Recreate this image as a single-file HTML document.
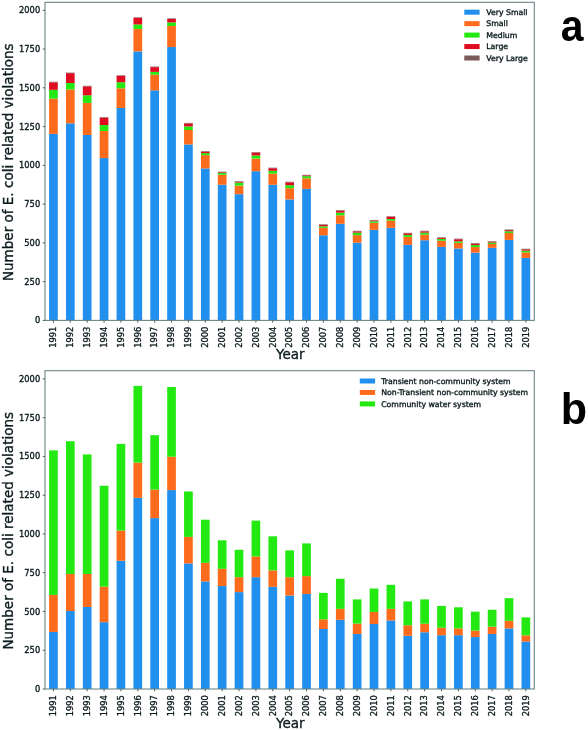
<!DOCTYPE html>
<html lang="en">
<head>
<meta charset="utf-8">
<title>E. coli related violations by system size and type, 1991-2019</title>
<style>
html,body{margin:0;padding:0;background:#fff;}
body{width:588px;height:730px;overflow:hidden;}
svg{display:block;filter:blur(0.45px);}
svg text{font-family:"DejaVu Sans","Liberation Sans",sans-serif;fill:#0d1c1f;stroke:#0d1c1f;stroke-width:0.34px;}
svg text.ltr{font-family:"Liberation Sans",Arial,Helvetica,sans-serif;font-weight:700;font-size:43.5px;fill:#000;stroke:none;}
</style>
</head>
<body>
<svg width="588" height="730" viewBox="0 0 588 730">
<rect width="588" height="730" fill="#ffffff"/>
<g id="panel-a">
<rect x="49.09" y="133.87" width="8.7" height="186.53" fill="#218fee"/>
<rect x="49.09" y="98.68" width="8.7" height="35.2" fill="#ff6b1c"/>
<rect x="49.09" y="89.84" width="8.7" height="8.84" fill="#24e812"/>
<rect x="49.09" y="82.32" width="8.7" height="7.52" fill="#df0c22"/>
<rect x="49.09" y="81.78" width="8.7" height="0.54" fill="#7d5a5a"/>
<rect x="65.96" y="123.33" width="8.7" height="197.07" fill="#218fee"/>
<rect x="65.96" y="89.53" width="8.7" height="33.8" fill="#ff6b1c"/>
<rect x="65.96" y="83.02" width="8.7" height="6.51" fill="#24e812"/>
<rect x="65.96" y="73.17" width="8.7" height="9.85" fill="#df0c22"/>
<rect x="65.96" y="72.63" width="8.7" height="0.54" fill="#7d5a5a"/>
<rect x="82.83" y="134.96" width="8.7" height="185.44" fill="#218fee"/>
<rect x="82.83" y="102.86" width="8.7" height="32.1" fill="#ff6b1c"/>
<rect x="82.83" y="95.27" width="8.7" height="7.6" fill="#24e812"/>
<rect x="82.83" y="86.35" width="8.7" height="8.92" fill="#df0c22"/>
<rect x="82.83" y="85.81" width="8.7" height="0.54" fill="#7d5a5a"/>
<rect x="99.7" y="158.06" width="8.7" height="162.34" fill="#218fee"/>
<rect x="99.7" y="130.93" width="8.7" height="27.13" fill="#ff6b1c"/>
<rect x="99.7" y="125.04" width="8.7" height="5.89" fill="#24e812"/>
<rect x="99.7" y="117.67" width="8.7" height="7.36" fill="#df0c22"/>
<rect x="99.7" y="117.13" width="8.7" height="0.54" fill="#7d5a5a"/>
<rect x="116.58" y="107.98" width="8.7" height="212.42" fill="#218fee"/>
<rect x="116.58" y="88.29" width="8.7" height="19.69" fill="#ff6b1c"/>
<rect x="116.58" y="82.24" width="8.7" height="6.05" fill="#24e812"/>
<rect x="116.58" y="75.81" width="8.7" height="6.43" fill="#df0c22"/>
<rect x="116.58" y="75.27" width="8.7" height="0.54" fill="#7d5a5a"/>
<rect x="133.45" y="51.39" width="8.7" height="269.01" fill="#218fee"/>
<rect x="133.45" y="28.91" width="8.7" height="22.48" fill="#ff6b1c"/>
<rect x="133.45" y="24.41" width="8.7" height="4.5" fill="#24e812"/>
<rect x="133.45" y="17.82" width="8.7" height="6.59" fill="#df0c22"/>
<rect x="133.45" y="17.28" width="8.7" height="0.54" fill="#7d5a5a"/>
<rect x="150.32" y="90.31" width="8.7" height="230.09" fill="#218fee"/>
<rect x="150.32" y="74.65" width="8.7" height="15.66" fill="#ff6b1c"/>
<rect x="150.32" y="71.85" width="8.7" height="2.79" fill="#24e812"/>
<rect x="150.32" y="67.13" width="8.7" height="4.73" fill="#df0c22"/>
<rect x="150.32" y="66.58" width="8.7" height="0.54" fill="#7d5a5a"/>
<rect x="167.19" y="47.05" width="8.7" height="273.35" fill="#218fee"/>
<rect x="167.19" y="25.96" width="8.7" height="21.09" fill="#ff6b1c"/>
<rect x="167.19" y="22.39" width="8.7" height="3.57" fill="#24e812"/>
<rect x="167.19" y="18.91" width="8.7" height="3.49" fill="#df0c22"/>
<rect x="167.19" y="18.36" width="8.7" height="0.54" fill="#7d5a5a"/>
<rect x="184.07" y="144.42" width="8.7" height="175.98" fill="#218fee"/>
<rect x="184.07" y="130" width="8.7" height="14.42" fill="#ff6b1c"/>
<rect x="184.07" y="126.43" width="8.7" height="3.57" fill="#24e812"/>
<rect x="184.07" y="123.41" width="8.7" height="3.02" fill="#df0c22"/>
<rect x="184.07" y="122.87" width="8.7" height="0.54" fill="#7d5a5a"/>
<rect x="200.94" y="168.45" width="8.7" height="151.95" fill="#218fee"/>
<rect x="200.94" y="155.12" width="8.7" height="13.33" fill="#ff6b1c"/>
<rect x="200.94" y="153.1" width="8.7" height="2.02" fill="#24e812"/>
<rect x="200.94" y="151.63" width="8.7" height="1.47" fill="#df0c22"/>
<rect x="200.94" y="151.09" width="8.7" height="0.54" fill="#7d5a5a"/>
<rect x="217.81" y="184.73" width="8.7" height="135.67" fill="#218fee"/>
<rect x="217.81" y="174.65" width="8.7" height="10.08" fill="#ff6b1c"/>
<rect x="217.81" y="172.95" width="8.7" height="1.71" fill="#24e812"/>
<rect x="217.81" y="172.25" width="8.7" height="0.7" fill="#df0c22"/>
<rect x="217.81" y="171.71" width="8.7" height="0.54" fill="#7d5a5a"/>
<rect x="234.68" y="194.19" width="8.7" height="126.21" fill="#218fee"/>
<rect x="234.68" y="185.66" width="8.7" height="8.53" fill="#ff6b1c"/>
<rect x="234.68" y="182.56" width="8.7" height="3.1" fill="#24e812"/>
<rect x="234.68" y="181.71" width="8.7" height="0.85" fill="#df0c22"/>
<rect x="234.68" y="181.17" width="8.7" height="0.54" fill="#7d5a5a"/>
<rect x="251.56" y="171.24" width="8.7" height="149.16" fill="#218fee"/>
<rect x="251.56" y="158.53" width="8.7" height="12.71" fill="#ff6b1c"/>
<rect x="251.56" y="155.43" width="8.7" height="3.1" fill="#24e812"/>
<rect x="251.56" y="152.56" width="8.7" height="2.87" fill="#df0c22"/>
<rect x="251.56" y="152.02" width="8.7" height="0.54" fill="#7d5a5a"/>
<rect x="268.43" y="184.73" width="8.7" height="135.67" fill="#218fee"/>
<rect x="268.43" y="173.57" width="8.7" height="11.16" fill="#ff6b1c"/>
<rect x="268.43" y="170.78" width="8.7" height="2.79" fill="#24e812"/>
<rect x="268.43" y="168.22" width="8.7" height="2.56" fill="#df0c22"/>
<rect x="268.43" y="167.68" width="8.7" height="0.54" fill="#7d5a5a"/>
<rect x="285.3" y="199.46" width="8.7" height="120.94" fill="#218fee"/>
<rect x="285.3" y="188.14" width="8.7" height="11.32" fill="#ff6b1c"/>
<rect x="285.3" y="185.2" width="8.7" height="2.95" fill="#24e812"/>
<rect x="285.3" y="182.33" width="8.7" height="2.87" fill="#df0c22"/>
<rect x="285.3" y="181.79" width="8.7" height="0.54" fill="#7d5a5a"/>
<rect x="302.17" y="188.92" width="8.7" height="131.48" fill="#218fee"/>
<rect x="302.17" y="178.37" width="8.7" height="10.54" fill="#ff6b1c"/>
<rect x="302.17" y="176.2" width="8.7" height="2.17" fill="#24e812"/>
<rect x="302.17" y="175.35" width="8.7" height="0.85" fill="#df0c22"/>
<rect x="302.17" y="174.81" width="8.7" height="0.54" fill="#7d5a5a"/>
<rect x="319.04" y="235.28" width="8.7" height="85.12" fill="#218fee"/>
<rect x="319.04" y="227.84" width="8.7" height="7.44" fill="#ff6b1c"/>
<rect x="319.04" y="226.28" width="8.7" height="1.55" fill="#24e812"/>
<rect x="319.04" y="224.81" width="8.7" height="1.47" fill="#df0c22"/>
<rect x="319.04" y="224.27" width="8.7" height="0.54" fill="#7d5a5a"/>
<rect x="335.92" y="223.8" width="8.7" height="96.6" fill="#218fee"/>
<rect x="335.92" y="215.28" width="8.7" height="8.53" fill="#ff6b1c"/>
<rect x="335.92" y="212.64" width="8.7" height="2.64" fill="#24e812"/>
<rect x="335.92" y="210.7" width="8.7" height="1.94" fill="#df0c22"/>
<rect x="335.92" y="210.16" width="8.7" height="0.54" fill="#7d5a5a"/>
<rect x="352.79" y="242.72" width="8.7" height="77.68" fill="#218fee"/>
<rect x="352.79" y="235.12" width="8.7" height="7.6" fill="#ff6b1c"/>
<rect x="352.79" y="232.64" width="8.7" height="2.48" fill="#24e812"/>
<rect x="352.79" y="231.32" width="8.7" height="1.32" fill="#df0c22"/>
<rect x="352.79" y="230.78" width="8.7" height="0.54" fill="#7d5a5a"/>
<rect x="369.66" y="229.85" width="8.7" height="90.55" fill="#218fee"/>
<rect x="369.66" y="222.87" width="8.7" height="6.98" fill="#ff6b1c"/>
<rect x="369.66" y="221.32" width="8.7" height="1.55" fill="#24e812"/>
<rect x="369.66" y="220.47" width="8.7" height="0.85" fill="#df0c22"/>
<rect x="369.66" y="219.93" width="8.7" height="0.54" fill="#7d5a5a"/>
<rect x="386.53" y="227.84" width="8.7" height="92.56" fill="#218fee"/>
<rect x="386.53" y="220.55" width="8.7" height="7.29" fill="#ff6b1c"/>
<rect x="386.53" y="219" width="8.7" height="1.55" fill="#24e812"/>
<rect x="386.53" y="216.75" width="8.7" height="2.25" fill="#df0c22"/>
<rect x="386.53" y="216.21" width="8.7" height="0.54" fill="#7d5a5a"/>
<rect x="403.41" y="244.89" width="8.7" height="75.51" fill="#218fee"/>
<rect x="403.41" y="236.83" width="8.7" height="8.06" fill="#ff6b1c"/>
<rect x="403.41" y="234.97" width="8.7" height="1.86" fill="#24e812"/>
<rect x="403.41" y="233.34" width="8.7" height="1.63" fill="#df0c22"/>
<rect x="403.41" y="232.8" width="8.7" height="0.54" fill="#7d5a5a"/>
<rect x="420.28" y="240.24" width="8.7" height="80.16" fill="#218fee"/>
<rect x="420.28" y="234.66" width="8.7" height="5.58" fill="#ff6b1c"/>
<rect x="420.28" y="232.64" width="8.7" height="2.02" fill="#24e812"/>
<rect x="420.28" y="231.32" width="8.7" height="1.32" fill="#df0c22"/>
<rect x="420.28" y="230.78" width="8.7" height="0.54" fill="#7d5a5a"/>
<rect x="437.15" y="246.91" width="8.7" height="73.49" fill="#218fee"/>
<rect x="437.15" y="240.7" width="8.7" height="6.2" fill="#ff6b1c"/>
<rect x="437.15" y="238.84" width="8.7" height="1.86" fill="#24e812"/>
<rect x="437.15" y="237.84" width="8.7" height="1.01" fill="#df0c22"/>
<rect x="437.15" y="237.29" width="8.7" height="0.54" fill="#7d5a5a"/>
<rect x="454.02" y="248.46" width="8.7" height="71.94" fill="#218fee"/>
<rect x="454.02" y="242.88" width="8.7" height="5.58" fill="#ff6b1c"/>
<rect x="454.02" y="241.32" width="8.7" height="1.55" fill="#24e812"/>
<rect x="454.02" y="239.23" width="8.7" height="2.09" fill="#df0c22"/>
<rect x="454.02" y="238.69" width="8.7" height="0.54" fill="#7d5a5a"/>
<rect x="470.9" y="252.64" width="8.7" height="67.76" fill="#218fee"/>
<rect x="470.9" y="247.06" width="8.7" height="5.58" fill="#ff6b1c"/>
<rect x="470.9" y="245.05" width="8.7" height="2.02" fill="#24e812"/>
<rect x="470.9" y="243.57" width="8.7" height="1.47" fill="#df0c22"/>
<rect x="470.9" y="243.03" width="8.7" height="0.54" fill="#7d5a5a"/>
<rect x="487.77" y="247.84" width="8.7" height="72.56" fill="#218fee"/>
<rect x="487.77" y="243.96" width="8.7" height="3.88" fill="#ff6b1c"/>
<rect x="487.77" y="242.56" width="8.7" height="1.4" fill="#24e812"/>
<rect x="487.77" y="241.71" width="8.7" height="0.85" fill="#df0c22"/>
<rect x="487.77" y="241.17" width="8.7" height="0.54" fill="#7d5a5a"/>
<rect x="504.64" y="239.93" width="8.7" height="80.47" fill="#218fee"/>
<rect x="504.64" y="232.95" width="8.7" height="6.98" fill="#ff6b1c"/>
<rect x="504.64" y="231.25" width="8.7" height="1.71" fill="#24e812"/>
<rect x="504.64" y="230.08" width="8.7" height="1.16" fill="#df0c22"/>
<rect x="504.64" y="229.54" width="8.7" height="0.54" fill="#7d5a5a"/>
<rect x="521.51" y="257.91" width="8.7" height="62.49" fill="#218fee"/>
<rect x="521.51" y="252.33" width="8.7" height="5.58" fill="#ff6b1c"/>
<rect x="521.51" y="250.63" width="8.7" height="1.71" fill="#24e812"/>
<rect x="521.51" y="249.31" width="8.7" height="1.32" fill="#df0c22"/>
<rect x="521.51" y="248.77" width="8.7" height="0.54" fill="#7d5a5a"/>
<rect x="45" y="2.3" width="489.3" height="318.1" fill="none" stroke="#6b8585" stroke-width="1.1"/>
<line x1="42.7" y1="320.4" x2="45" y2="320.4" stroke="#3a5054" stroke-width="0.9"/>
<text x="40.2" y="323.45" text-anchor="end" font-size="8.3">0</text>
<line x1="42.7" y1="281.64" x2="45" y2="281.64" stroke="#3a5054" stroke-width="0.9"/>
<text x="40.2" y="284.69" text-anchor="end" font-size="8.3">250</text>
<line x1="42.7" y1="242.88" x2="45" y2="242.88" stroke="#3a5054" stroke-width="0.9"/>
<text x="40.2" y="245.93" text-anchor="end" font-size="8.3">500</text>
<line x1="42.7" y1="204.11" x2="45" y2="204.11" stroke="#3a5054" stroke-width="0.9"/>
<text x="40.2" y="207.16" text-anchor="end" font-size="8.3">750</text>
<line x1="42.7" y1="165.35" x2="45" y2="165.35" stroke="#3a5054" stroke-width="0.9"/>
<text x="40.2" y="168.4" text-anchor="end" font-size="8.3">1000</text>
<line x1="42.7" y1="126.59" x2="45" y2="126.59" stroke="#3a5054" stroke-width="0.9"/>
<text x="40.2" y="129.64" text-anchor="end" font-size="8.3">1250</text>
<line x1="42.7" y1="87.82" x2="45" y2="87.82" stroke="#3a5054" stroke-width="0.9"/>
<text x="40.2" y="90.87" text-anchor="end" font-size="8.3">1500</text>
<line x1="42.7" y1="49.06" x2="45" y2="49.06" stroke="#3a5054" stroke-width="0.9"/>
<text x="40.2" y="52.11" text-anchor="end" font-size="8.3">1750</text>
<line x1="42.7" y1="10.3" x2="45" y2="10.3" stroke="#3a5054" stroke-width="0.9"/>
<text x="40.2" y="13.35" text-anchor="end" font-size="8.3">2000</text>
<line x1="53.44" y1="320.4" x2="53.44" y2="322.7" stroke="#3a5054" stroke-width="0.9"/>
<text transform="translate(56.24,326.6) rotate(-90)" text-anchor="end" font-size="8.3">1991</text>
<line x1="70.31" y1="320.4" x2="70.31" y2="322.7" stroke="#3a5054" stroke-width="0.9"/>
<text transform="translate(73.11,326.6) rotate(-90)" text-anchor="end" font-size="8.3">1992</text>
<line x1="87.18" y1="320.4" x2="87.18" y2="322.7" stroke="#3a5054" stroke-width="0.9"/>
<text transform="translate(89.98,326.6) rotate(-90)" text-anchor="end" font-size="8.3">1993</text>
<line x1="104.05" y1="320.4" x2="104.05" y2="322.7" stroke="#3a5054" stroke-width="0.9"/>
<text transform="translate(106.85,326.6) rotate(-90)" text-anchor="end" font-size="8.3">1994</text>
<line x1="120.93" y1="320.4" x2="120.93" y2="322.7" stroke="#3a5054" stroke-width="0.9"/>
<text transform="translate(123.73,326.6) rotate(-90)" text-anchor="end" font-size="8.3">1995</text>
<line x1="137.8" y1="320.4" x2="137.8" y2="322.7" stroke="#3a5054" stroke-width="0.9"/>
<text transform="translate(140.6,326.6) rotate(-90)" text-anchor="end" font-size="8.3">1996</text>
<line x1="154.67" y1="320.4" x2="154.67" y2="322.7" stroke="#3a5054" stroke-width="0.9"/>
<text transform="translate(157.47,326.6) rotate(-90)" text-anchor="end" font-size="8.3">1997</text>
<line x1="171.54" y1="320.4" x2="171.54" y2="322.7" stroke="#3a5054" stroke-width="0.9"/>
<text transform="translate(174.34,326.6) rotate(-90)" text-anchor="end" font-size="8.3">1998</text>
<line x1="188.42" y1="320.4" x2="188.42" y2="322.7" stroke="#3a5054" stroke-width="0.9"/>
<text transform="translate(191.22,326.6) rotate(-90)" text-anchor="end" font-size="8.3">1999</text>
<line x1="205.29" y1="320.4" x2="205.29" y2="322.7" stroke="#3a5054" stroke-width="0.9"/>
<text transform="translate(208.09,326.6) rotate(-90)" text-anchor="end" font-size="8.3">2000</text>
<line x1="222.16" y1="320.4" x2="222.16" y2="322.7" stroke="#3a5054" stroke-width="0.9"/>
<text transform="translate(224.96,326.6) rotate(-90)" text-anchor="end" font-size="8.3">2001</text>
<line x1="239.03" y1="320.4" x2="239.03" y2="322.7" stroke="#3a5054" stroke-width="0.9"/>
<text transform="translate(241.83,326.6) rotate(-90)" text-anchor="end" font-size="8.3">2002</text>
<line x1="255.91" y1="320.4" x2="255.91" y2="322.7" stroke="#3a5054" stroke-width="0.9"/>
<text transform="translate(258.71,326.6) rotate(-90)" text-anchor="end" font-size="8.3">2003</text>
<line x1="272.78" y1="320.4" x2="272.78" y2="322.7" stroke="#3a5054" stroke-width="0.9"/>
<text transform="translate(275.58,326.6) rotate(-90)" text-anchor="end" font-size="8.3">2004</text>
<line x1="289.65" y1="320.4" x2="289.65" y2="322.7" stroke="#3a5054" stroke-width="0.9"/>
<text transform="translate(292.45,326.6) rotate(-90)" text-anchor="end" font-size="8.3">2005</text>
<line x1="306.52" y1="320.4" x2="306.52" y2="322.7" stroke="#3a5054" stroke-width="0.9"/>
<text transform="translate(309.32,326.6) rotate(-90)" text-anchor="end" font-size="8.3">2006</text>
<line x1="323.39" y1="320.4" x2="323.39" y2="322.7" stroke="#3a5054" stroke-width="0.9"/>
<text transform="translate(326.19,326.6) rotate(-90)" text-anchor="end" font-size="8.3">2007</text>
<line x1="340.27" y1="320.4" x2="340.27" y2="322.7" stroke="#3a5054" stroke-width="0.9"/>
<text transform="translate(343.07,326.6) rotate(-90)" text-anchor="end" font-size="8.3">2008</text>
<line x1="357.14" y1="320.4" x2="357.14" y2="322.7" stroke="#3a5054" stroke-width="0.9"/>
<text transform="translate(359.94,326.6) rotate(-90)" text-anchor="end" font-size="8.3">2009</text>
<line x1="374.01" y1="320.4" x2="374.01" y2="322.7" stroke="#3a5054" stroke-width="0.9"/>
<text transform="translate(376.81,326.6) rotate(-90)" text-anchor="end" font-size="8.3">2010</text>
<line x1="390.88" y1="320.4" x2="390.88" y2="322.7" stroke="#3a5054" stroke-width="0.9"/>
<text transform="translate(393.68,326.6) rotate(-90)" text-anchor="end" font-size="8.3">2011</text>
<line x1="407.76" y1="320.4" x2="407.76" y2="322.7" stroke="#3a5054" stroke-width="0.9"/>
<text transform="translate(410.56,326.6) rotate(-90)" text-anchor="end" font-size="8.3">2012</text>
<line x1="424.63" y1="320.4" x2="424.63" y2="322.7" stroke="#3a5054" stroke-width="0.9"/>
<text transform="translate(427.43,326.6) rotate(-90)" text-anchor="end" font-size="8.3">2013</text>
<line x1="441.5" y1="320.4" x2="441.5" y2="322.7" stroke="#3a5054" stroke-width="0.9"/>
<text transform="translate(444.3,326.6) rotate(-90)" text-anchor="end" font-size="8.3">2014</text>
<line x1="458.37" y1="320.4" x2="458.37" y2="322.7" stroke="#3a5054" stroke-width="0.9"/>
<text transform="translate(461.17,326.6) rotate(-90)" text-anchor="end" font-size="8.3">2015</text>
<line x1="475.25" y1="320.4" x2="475.25" y2="322.7" stroke="#3a5054" stroke-width="0.9"/>
<text transform="translate(478.05,326.6) rotate(-90)" text-anchor="end" font-size="8.3">2016</text>
<line x1="492.12" y1="320.4" x2="492.12" y2="322.7" stroke="#3a5054" stroke-width="0.9"/>
<text transform="translate(494.92,326.6) rotate(-90)" text-anchor="end" font-size="8.3">2017</text>
<line x1="508.99" y1="320.4" x2="508.99" y2="322.7" stroke="#3a5054" stroke-width="0.9"/>
<text transform="translate(511.79,326.6) rotate(-90)" text-anchor="end" font-size="8.3">2018</text>
<line x1="525.86" y1="320.4" x2="525.86" y2="322.7" stroke="#3a5054" stroke-width="0.9"/>
<text transform="translate(528.66,326.6) rotate(-90)" text-anchor="end" font-size="8.3">2019</text>
<text x="290.25" y="359.4" text-anchor="middle" font-size="13.53">Year</text>
<text transform="translate(12.9,162.25) rotate(-90)" text-anchor="middle" font-size="13.53">Number of E. coli related violations</text>
<rect x="464.3" y="9.7" width="15.3" height="5" fill="#218fee"/>
<text x="486.3" y="14.9" font-size="7.75">Very Small</text>
<rect x="464.3" y="21.15" width="15.3" height="5" fill="#ff6b1c"/>
<text x="486.3" y="26.35" font-size="7.75">Small</text>
<rect x="464.3" y="32.6" width="15.3" height="5" fill="#24e812"/>
<text x="486.3" y="37.8" font-size="7.75">Medium</text>
<rect x="464.3" y="44.05" width="15.3" height="5" fill="#df0c22"/>
<text x="486.3" y="49.25" font-size="7.75">Large</text>
<rect x="464.3" y="55.5" width="15.3" height="5" fill="#7d5a5a"/>
<text x="486.3" y="60.7" font-size="7.75">Very Large</text>
<text class="ltr" transform="translate(560.8,40.5) scale(0.94,1)">a</text>
</g>
<g id="panel-b">
<rect x="49.09" y="631.94" width="8.7" height="57.06" fill="#218fee"/>
<rect x="49.09" y="594.88" width="8.7" height="37.06" fill="#ff6b1c"/>
<rect x="49.09" y="450.38" width="8.7" height="144.51" fill="#24e812"/>
<rect x="65.96" y="611.01" width="8.7" height="77.99" fill="#218fee"/>
<rect x="65.96" y="573.95" width="8.7" height="37.06" fill="#ff6b1c"/>
<rect x="65.96" y="441.23" width="8.7" height="132.72" fill="#24e812"/>
<rect x="82.83" y="606.98" width="8.7" height="82.02" fill="#218fee"/>
<rect x="82.83" y="573.95" width="8.7" height="33.03" fill="#ff6b1c"/>
<rect x="82.83" y="454.41" width="8.7" height="119.54" fill="#24e812"/>
<rect x="99.7" y="622.17" width="8.7" height="66.83" fill="#218fee"/>
<rect x="99.7" y="586.67" width="8.7" height="35.51" fill="#ff6b1c"/>
<rect x="99.7" y="485.73" width="8.7" height="100.94" fill="#24e812"/>
<rect x="116.58" y="560.77" width="8.7" height="128.23" fill="#218fee"/>
<rect x="116.58" y="530.54" width="8.7" height="30.23" fill="#ff6b1c"/>
<rect x="116.58" y="443.87" width="8.7" height="86.67" fill="#24e812"/>
<rect x="133.45" y="497.82" width="8.7" height="191.18" fill="#218fee"/>
<rect x="133.45" y="462.63" width="8.7" height="35.2" fill="#ff6b1c"/>
<rect x="133.45" y="385.88" width="8.7" height="76.75" fill="#24e812"/>
<rect x="150.32" y="518.13" width="8.7" height="170.87" fill="#218fee"/>
<rect x="150.32" y="489.61" width="8.7" height="28.53" fill="#ff6b1c"/>
<rect x="150.32" y="435.18" width="8.7" height="54.42" fill="#24e812"/>
<rect x="167.19" y="490.07" width="8.7" height="198.93" fill="#218fee"/>
<rect x="167.19" y="456.74" width="8.7" height="33.34" fill="#ff6b1c"/>
<rect x="167.19" y="386.96" width="8.7" height="69.77" fill="#24e812"/>
<rect x="184.07" y="563.41" width="8.7" height="125.59" fill="#218fee"/>
<rect x="184.07" y="536.9" width="8.7" height="26.51" fill="#ff6b1c"/>
<rect x="184.07" y="491.47" width="8.7" height="45.43" fill="#24e812"/>
<rect x="200.94" y="581.4" width="8.7" height="107.6" fill="#218fee"/>
<rect x="200.94" y="562.79" width="8.7" height="18.61" fill="#ff6b1c"/>
<rect x="200.94" y="519.69" width="8.7" height="43.1" fill="#24e812"/>
<rect x="217.81" y="586.05" width="8.7" height="102.95" fill="#218fee"/>
<rect x="217.81" y="568.84" width="8.7" height="17.21" fill="#ff6b1c"/>
<rect x="217.81" y="540.31" width="8.7" height="28.53" fill="#24e812"/>
<rect x="234.68" y="592.09" width="8.7" height="96.91" fill="#218fee"/>
<rect x="234.68" y="577.21" width="8.7" height="14.88" fill="#ff6b1c"/>
<rect x="234.68" y="549.77" width="8.7" height="27.44" fill="#24e812"/>
<rect x="251.56" y="577.21" width="8.7" height="111.79" fill="#218fee"/>
<rect x="251.56" y="556.43" width="8.7" height="20.78" fill="#ff6b1c"/>
<rect x="251.56" y="520.62" width="8.7" height="35.82" fill="#24e812"/>
<rect x="268.43" y="586.82" width="8.7" height="102.18" fill="#218fee"/>
<rect x="268.43" y="570.39" width="8.7" height="16.44" fill="#ff6b1c"/>
<rect x="268.43" y="536.28" width="8.7" height="34.11" fill="#24e812"/>
<rect x="285.3" y="595.5" width="8.7" height="93.5" fill="#218fee"/>
<rect x="285.3" y="577.21" width="8.7" height="18.3" fill="#ff6b1c"/>
<rect x="285.3" y="550.39" width="8.7" height="26.82" fill="#24e812"/>
<rect x="302.17" y="593.95" width="8.7" height="95.05" fill="#218fee"/>
<rect x="302.17" y="576.12" width="8.7" height="17.83" fill="#ff6b1c"/>
<rect x="302.17" y="543.41" width="8.7" height="32.72" fill="#24e812"/>
<rect x="319.04" y="629" width="8.7" height="60" fill="#218fee"/>
<rect x="319.04" y="619.38" width="8.7" height="9.61" fill="#ff6b1c"/>
<rect x="319.04" y="592.87" width="8.7" height="26.51" fill="#24e812"/>
<rect x="335.92" y="619.85" width="8.7" height="69.15" fill="#218fee"/>
<rect x="335.92" y="608.84" width="8.7" height="11.01" fill="#ff6b1c"/>
<rect x="335.92" y="578.76" width="8.7" height="30.08" fill="#24e812"/>
<rect x="352.79" y="633.96" width="8.7" height="55.04" fill="#218fee"/>
<rect x="352.79" y="623.57" width="8.7" height="10.39" fill="#ff6b1c"/>
<rect x="352.79" y="599.38" width="8.7" height="24.19" fill="#24e812"/>
<rect x="369.66" y="624.03" width="8.7" height="64.97" fill="#218fee"/>
<rect x="369.66" y="611.94" width="8.7" height="12.09" fill="#ff6b1c"/>
<rect x="369.66" y="588.53" width="8.7" height="23.41" fill="#24e812"/>
<rect x="386.53" y="620.47" width="8.7" height="68.53" fill="#218fee"/>
<rect x="386.53" y="608.84" width="8.7" height="11.63" fill="#ff6b1c"/>
<rect x="386.53" y="584.81" width="8.7" height="24.03" fill="#24e812"/>
<rect x="403.41" y="635.82" width="8.7" height="53.18" fill="#218fee"/>
<rect x="403.41" y="625.27" width="8.7" height="10.54" fill="#ff6b1c"/>
<rect x="403.41" y="601.4" width="8.7" height="23.88" fill="#24e812"/>
<rect x="420.28" y="632.25" width="8.7" height="56.75" fill="#218fee"/>
<rect x="420.28" y="623.72" width="8.7" height="8.53" fill="#ff6b1c"/>
<rect x="420.28" y="599.38" width="8.7" height="24.34" fill="#24e812"/>
<rect x="437.15" y="635.2" width="8.7" height="53.8" fill="#218fee"/>
<rect x="437.15" y="627.76" width="8.7" height="7.44" fill="#ff6b1c"/>
<rect x="437.15" y="605.89" width="8.7" height="21.86" fill="#24e812"/>
<rect x="454.02" y="635.2" width="8.7" height="53.8" fill="#218fee"/>
<rect x="454.02" y="628.38" width="8.7" height="6.82" fill="#ff6b1c"/>
<rect x="454.02" y="607.29" width="8.7" height="21.09" fill="#24e812"/>
<rect x="470.9" y="637.06" width="8.7" height="51.94" fill="#218fee"/>
<rect x="470.9" y="630.55" width="8.7" height="6.51" fill="#ff6b1c"/>
<rect x="470.9" y="611.63" width="8.7" height="18.92" fill="#24e812"/>
<rect x="487.77" y="633.96" width="8.7" height="55.04" fill="#218fee"/>
<rect x="487.77" y="626.67" width="8.7" height="7.29" fill="#ff6b1c"/>
<rect x="487.77" y="609.77" width="8.7" height="16.9" fill="#24e812"/>
<rect x="504.64" y="628.38" width="8.7" height="60.62" fill="#218fee"/>
<rect x="504.64" y="620.78" width="8.7" height="7.6" fill="#ff6b1c"/>
<rect x="504.64" y="598.14" width="8.7" height="22.64" fill="#24e812"/>
<rect x="521.51" y="641.55" width="8.7" height="47.45" fill="#218fee"/>
<rect x="521.51" y="635.35" width="8.7" height="6.2" fill="#ff6b1c"/>
<rect x="521.51" y="617.37" width="8.7" height="17.99" fill="#24e812"/>
<rect x="45" y="370.7" width="489.3" height="318.3" fill="none" stroke="#6b8585" stroke-width="1.1"/>
<line x1="42.7" y1="689" x2="45" y2="689" stroke="#3a5054" stroke-width="0.9"/>
<text x="40.2" y="692.05" text-anchor="end" font-size="8.3">0</text>
<line x1="42.7" y1="650.24" x2="45" y2="650.24" stroke="#3a5054" stroke-width="0.9"/>
<text x="40.2" y="653.29" text-anchor="end" font-size="8.3">250</text>
<line x1="42.7" y1="611.48" x2="45" y2="611.48" stroke="#3a5054" stroke-width="0.9"/>
<text x="40.2" y="614.52" text-anchor="end" font-size="8.3">500</text>
<line x1="42.7" y1="572.71" x2="45" y2="572.71" stroke="#3a5054" stroke-width="0.9"/>
<text x="40.2" y="575.76" text-anchor="end" font-size="8.3">750</text>
<line x1="42.7" y1="533.95" x2="45" y2="533.95" stroke="#3a5054" stroke-width="0.9"/>
<text x="40.2" y="537" text-anchor="end" font-size="8.3">1000</text>
<line x1="42.7" y1="495.19" x2="45" y2="495.19" stroke="#3a5054" stroke-width="0.9"/>
<text x="40.2" y="498.24" text-anchor="end" font-size="8.3">1250</text>
<line x1="42.7" y1="456.43" x2="45" y2="456.43" stroke="#3a5054" stroke-width="0.9"/>
<text x="40.2" y="459.48" text-anchor="end" font-size="8.3">1500</text>
<line x1="42.7" y1="417.66" x2="45" y2="417.66" stroke="#3a5054" stroke-width="0.9"/>
<text x="40.2" y="420.71" text-anchor="end" font-size="8.3">1750</text>
<line x1="42.7" y1="378.9" x2="45" y2="378.9" stroke="#3a5054" stroke-width="0.9"/>
<text x="40.2" y="381.95" text-anchor="end" font-size="8.3">2000</text>
<line x1="53.44" y1="689" x2="53.44" y2="691.3" stroke="#3a5054" stroke-width="0.9"/>
<text transform="translate(56.24,695.2) rotate(-90)" text-anchor="end" font-size="8.3">1991</text>
<line x1="70.31" y1="689" x2="70.31" y2="691.3" stroke="#3a5054" stroke-width="0.9"/>
<text transform="translate(73.11,695.2) rotate(-90)" text-anchor="end" font-size="8.3">1992</text>
<line x1="87.18" y1="689" x2="87.18" y2="691.3" stroke="#3a5054" stroke-width="0.9"/>
<text transform="translate(89.98,695.2) rotate(-90)" text-anchor="end" font-size="8.3">1993</text>
<line x1="104.05" y1="689" x2="104.05" y2="691.3" stroke="#3a5054" stroke-width="0.9"/>
<text transform="translate(106.85,695.2) rotate(-90)" text-anchor="end" font-size="8.3">1994</text>
<line x1="120.93" y1="689" x2="120.93" y2="691.3" stroke="#3a5054" stroke-width="0.9"/>
<text transform="translate(123.73,695.2) rotate(-90)" text-anchor="end" font-size="8.3">1995</text>
<line x1="137.8" y1="689" x2="137.8" y2="691.3" stroke="#3a5054" stroke-width="0.9"/>
<text transform="translate(140.6,695.2) rotate(-90)" text-anchor="end" font-size="8.3">1996</text>
<line x1="154.67" y1="689" x2="154.67" y2="691.3" stroke="#3a5054" stroke-width="0.9"/>
<text transform="translate(157.47,695.2) rotate(-90)" text-anchor="end" font-size="8.3">1997</text>
<line x1="171.54" y1="689" x2="171.54" y2="691.3" stroke="#3a5054" stroke-width="0.9"/>
<text transform="translate(174.34,695.2) rotate(-90)" text-anchor="end" font-size="8.3">1998</text>
<line x1="188.42" y1="689" x2="188.42" y2="691.3" stroke="#3a5054" stroke-width="0.9"/>
<text transform="translate(191.22,695.2) rotate(-90)" text-anchor="end" font-size="8.3">1999</text>
<line x1="205.29" y1="689" x2="205.29" y2="691.3" stroke="#3a5054" stroke-width="0.9"/>
<text transform="translate(208.09,695.2) rotate(-90)" text-anchor="end" font-size="8.3">2000</text>
<line x1="222.16" y1="689" x2="222.16" y2="691.3" stroke="#3a5054" stroke-width="0.9"/>
<text transform="translate(224.96,695.2) rotate(-90)" text-anchor="end" font-size="8.3">2001</text>
<line x1="239.03" y1="689" x2="239.03" y2="691.3" stroke="#3a5054" stroke-width="0.9"/>
<text transform="translate(241.83,695.2) rotate(-90)" text-anchor="end" font-size="8.3">2002</text>
<line x1="255.91" y1="689" x2="255.91" y2="691.3" stroke="#3a5054" stroke-width="0.9"/>
<text transform="translate(258.71,695.2) rotate(-90)" text-anchor="end" font-size="8.3">2003</text>
<line x1="272.78" y1="689" x2="272.78" y2="691.3" stroke="#3a5054" stroke-width="0.9"/>
<text transform="translate(275.58,695.2) rotate(-90)" text-anchor="end" font-size="8.3">2004</text>
<line x1="289.65" y1="689" x2="289.65" y2="691.3" stroke="#3a5054" stroke-width="0.9"/>
<text transform="translate(292.45,695.2) rotate(-90)" text-anchor="end" font-size="8.3">2005</text>
<line x1="306.52" y1="689" x2="306.52" y2="691.3" stroke="#3a5054" stroke-width="0.9"/>
<text transform="translate(309.32,695.2) rotate(-90)" text-anchor="end" font-size="8.3">2006</text>
<line x1="323.39" y1="689" x2="323.39" y2="691.3" stroke="#3a5054" stroke-width="0.9"/>
<text transform="translate(326.19,695.2) rotate(-90)" text-anchor="end" font-size="8.3">2007</text>
<line x1="340.27" y1="689" x2="340.27" y2="691.3" stroke="#3a5054" stroke-width="0.9"/>
<text transform="translate(343.07,695.2) rotate(-90)" text-anchor="end" font-size="8.3">2008</text>
<line x1="357.14" y1="689" x2="357.14" y2="691.3" stroke="#3a5054" stroke-width="0.9"/>
<text transform="translate(359.94,695.2) rotate(-90)" text-anchor="end" font-size="8.3">2009</text>
<line x1="374.01" y1="689" x2="374.01" y2="691.3" stroke="#3a5054" stroke-width="0.9"/>
<text transform="translate(376.81,695.2) rotate(-90)" text-anchor="end" font-size="8.3">2010</text>
<line x1="390.88" y1="689" x2="390.88" y2="691.3" stroke="#3a5054" stroke-width="0.9"/>
<text transform="translate(393.68,695.2) rotate(-90)" text-anchor="end" font-size="8.3">2011</text>
<line x1="407.76" y1="689" x2="407.76" y2="691.3" stroke="#3a5054" stroke-width="0.9"/>
<text transform="translate(410.56,695.2) rotate(-90)" text-anchor="end" font-size="8.3">2012</text>
<line x1="424.63" y1="689" x2="424.63" y2="691.3" stroke="#3a5054" stroke-width="0.9"/>
<text transform="translate(427.43,695.2) rotate(-90)" text-anchor="end" font-size="8.3">2013</text>
<line x1="441.5" y1="689" x2="441.5" y2="691.3" stroke="#3a5054" stroke-width="0.9"/>
<text transform="translate(444.3,695.2) rotate(-90)" text-anchor="end" font-size="8.3">2014</text>
<line x1="458.37" y1="689" x2="458.37" y2="691.3" stroke="#3a5054" stroke-width="0.9"/>
<text transform="translate(461.17,695.2) rotate(-90)" text-anchor="end" font-size="8.3">2015</text>
<line x1="475.25" y1="689" x2="475.25" y2="691.3" stroke="#3a5054" stroke-width="0.9"/>
<text transform="translate(478.05,695.2) rotate(-90)" text-anchor="end" font-size="8.3">2016</text>
<line x1="492.12" y1="689" x2="492.12" y2="691.3" stroke="#3a5054" stroke-width="0.9"/>
<text transform="translate(494.92,695.2) rotate(-90)" text-anchor="end" font-size="8.3">2017</text>
<line x1="508.99" y1="689" x2="508.99" y2="691.3" stroke="#3a5054" stroke-width="0.9"/>
<text transform="translate(511.79,695.2) rotate(-90)" text-anchor="end" font-size="8.3">2018</text>
<line x1="525.86" y1="689" x2="525.86" y2="691.3" stroke="#3a5054" stroke-width="0.9"/>
<text transform="translate(528.66,695.2) rotate(-90)" text-anchor="end" font-size="8.3">2019</text>
<text x="290.25" y="728" text-anchor="middle" font-size="13.53">Year</text>
<text transform="translate(12.9,530.75) rotate(-90)" text-anchor="middle" font-size="13.53">Number of E. coli related violations</text>
<rect x="359.8" y="378.5" width="15.3" height="5" fill="#218fee"/>
<text x="381.2" y="383.7" font-size="7.75">Transient non-community system</text>
<rect x="359.8" y="389.95" width="15.3" height="5" fill="#ff6b1c"/>
<text x="381.2" y="395.15" font-size="7.75">Non-Transient non-community system</text>
<rect x="359.8" y="401.4" width="15.3" height="5" fill="#24e812"/>
<text x="381.2" y="406.6" font-size="7.75">Community water system</text>
<text class="ltr" transform="translate(560.7,423.6) scale(0.99,1)">b</text>
</g>
</svg>
</body>
</html>
